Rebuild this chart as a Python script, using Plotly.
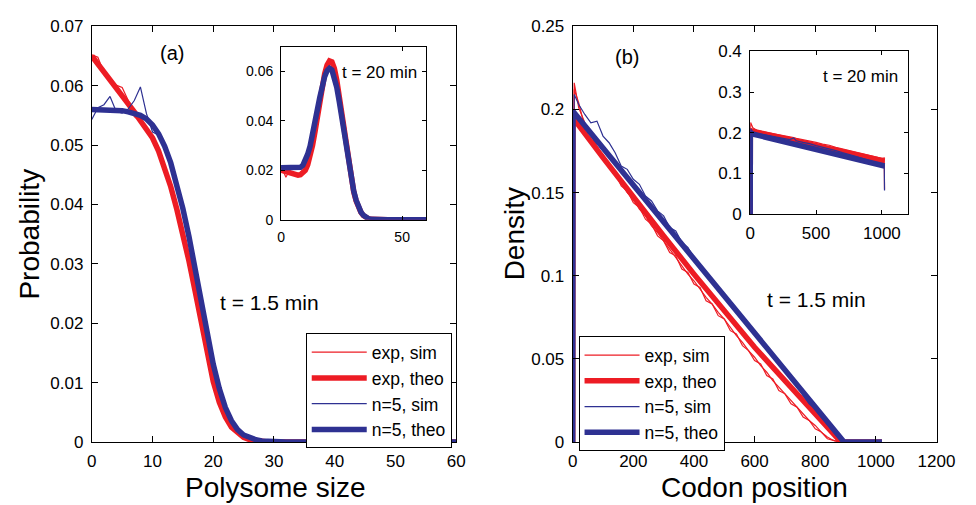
import plotly.graph_objects as go

# ---------------- data: panel (a), main, t = 1.5 min ----------------
size_main = list(range(0, 61))
exp_theo_main = [0.0650, 0.0637, 0.0624, 0.0611, 0.0598, 0.0585, 0.0571, 0.0556, 0.0541, 0.0526,
                 0.0512, 0.0490, 0.0462, 0.0430, 0.0392, 0.0350, 0.0305, 0.0255, 0.0200, 0.0148,
                 0.0102, 0.0067, 0.0042, 0.0025, 0.0015, 0.0008, 0.0004, 0.0002, 0.0001] + [0.0] * 32
n5_theo_main = [0.0560, 0.0560, 0.0560, 0.0560, 0.0559, 0.0558, 0.0556, 0.0554, 0.0550, 0.0544,
                0.0534, 0.0519, 0.0498, 0.0470, 0.0435, 0.0393, 0.0346, 0.0292, 0.0235, 0.0180,
                0.0131, 0.0090, 0.0058, 0.0036, 0.0021, 0.0012, 0.0007, 0.0004, 0.0002, 0.0001] + [0.0] * 31
exp_sim_main = [0.0652, 0.0648, 0.0622, 0.0613, 0.0601, 0.0597, 0.0575, 0.0548, 0.0540, 0.0529,
                0.0509, 0.0492, 0.0458, 0.0433, 0.0388, 0.0352, 0.0303, 0.0258, 0.0198, 0.0150,
                0.0100, 0.0068, 0.0041, 0.0026, 0.0014, 0.0008, 0.0004, 0.0002, 0.0001] + [0.0] * 32
n5_sim_main = [0.0543, 0.0563, 0.0568, 0.0582, 0.0557, 0.0554, 0.0561, 0.0575, 0.0598, 0.0553,
               0.0522, 0.0517, 0.0500, 0.0468, 0.0438, 0.0390, 0.0349, 0.0290, 0.0238, 0.0178,
               0.0133, 0.0088, 0.0059, 0.0035, 0.0022, 0.0012, 0.0007, 0.0003, 0.0002, 0.0001] + [0.0] * 31

# ---------------- data: panel (a), inset, t = 20 min ----------------
size_inset = list(range(0, 61))
exp_theo_inset = [0.0200, 0.0197, 0.0193, 0.0189, 0.0186, 0.0183, 0.0181, 0.0180, 0.0182, 0.0188,
                  0.0200, 0.0222, 0.0255, 0.0300, 0.0355, 0.0418, 0.0482, 0.0540, 0.0590, 0.0625,
                  0.0642, 0.0638, 0.0612, 0.0565, 0.0502, 0.0430, 0.0355, 0.0283, 0.0217, 0.0160,
                  0.0113, 0.0076, 0.0049, 0.0030, 0.0017, 0.0009, 0.0005, 0.0002, 0.0001] + [0.0] * 22
n5_theo_inset = [0.0210, 0.0210, 0.0210, 0.0210, 0.0210, 0.0210, 0.0210, 0.0210, 0.0212, 0.0220,
                 0.0238, 0.0265, 0.0298, 0.0340, 0.0390, 0.0445, 0.0495, 0.0540, 0.0578, 0.0602,
                 0.0612, 0.0605, 0.0578, 0.0535, 0.0480, 0.0415, 0.0347, 0.0280, 0.0218, 0.0162,
                 0.0116, 0.0079, 0.0051, 0.0031, 0.0018, 0.0010, 0.0005, 0.0002, 0.0001] + [0.0] * 22
exp_sim_inset = [0.0202, 0.0195, 0.0172, 0.0190, 0.0185, 0.0184, 0.0179, 0.0182, 0.0180, 0.0190,
                 0.0198, 0.0225, 0.0252, 0.0303, 0.0352, 0.0421, 0.0478, 0.0544, 0.0587, 0.0628,
                 0.0640, 0.0641, 0.0609, 0.0568, 0.0499, 0.0433, 0.0352, 0.0286, 0.0214, 0.0162,
                 0.0111, 0.0077, 0.0048, 0.0031, 0.0016, 0.0009, 0.0005, 0.0002, 0.0001] + [0.0] * 22
n5_sim_inset = [0.0213, 0.0208, 0.0211, 0.0209, 0.0212, 0.0208, 0.0211, 0.0209, 0.0214, 0.0218,
                0.0240, 0.0263, 0.0300, 0.0338, 0.0392, 0.0443, 0.0497, 0.0538, 0.0580, 0.0600,
                0.0614, 0.0603, 0.0580, 0.0533, 0.0482, 0.0413, 0.0349, 0.0278, 0.0219, 0.0161,
                0.0117, 0.0078, 0.0052, 0.0030, 0.0019, 0.0010, 0.0005, 0.0002, 0.0001] + [0.0] * 22

# ---------------- data: panel (b), main, t = 1.5 min ----------------
codon_exp_theo = [0, 1, 100, 200, 300, 400, 500, 600, 700, 800, 885, 1020]
exp_theo_dens = [0.0, 0.195, 0.171, 0.147, 0.124, 0.101, 0.079, 0.057, 0.037, 0.017, 0.0, 0.0]
codon_n5_theo = [0, 1, 100, 200, 300, 400, 500, 600, 700, 800, 895, 1020]
n5_theo_dens = [0.0, 0.199, 0.1768, 0.1545, 0.1323, 0.1101, 0.0878, 0.0656, 0.0434, 0.0211, 0.0, 0.0]

codon_sim = [0, 5] + list(range(20, 1021, 20))
exp_sim_dens_1 = [0.0, 0.216, 0.201, 0.192, 0.185, 0.178, 0.172, 0.166, 0.161, 0.156, 0.150,
                  0.146, 0.140, 0.136, 0.130, 0.126, 0.121, 0.116, 0.111, 0.106, 0.101,
                  0.097, 0.092, 0.087, 0.083, 0.078, 0.074, 0.069, 0.064, 0.060, 0.055,
                  0.051, 0.046, 0.042, 0.037, 0.033, 0.029, 0.025, 0.021, 0.017, 0.013,
                  0.010, 0.006, 0.003, 0.001, 0.0] + [0.0] * 7
exp_sim_dens_2 = [0.0, 0.212, 0.204, 0.189, 0.186, 0.176, 0.173, 0.165, 0.162, 0.154, 0.151,
                  0.144, 0.141, 0.134, 0.131, 0.124, 0.121, 0.114, 0.112, 0.104, 0.102,
                  0.095, 0.093, 0.085, 0.083, 0.076, 0.074, 0.067, 0.065, 0.058, 0.055,
                  0.049, 0.047, 0.040, 0.038, 0.031, 0.029, 0.023, 0.021, 0.015, 0.013,
                  0.008, 0.006, 0.002, 0.001, 0.0] + [0.0] * 7
n5_sim_dens = [0.0, 0.209, 0.203, 0.197, 0.192, 0.193, 0.184, 0.180, 0.174, 0.166, 0.164,
               0.158, 0.155, 0.148, 0.145, 0.139, 0.136, 0.129, 0.127, 0.120, 0.117,
               0.111, 0.107, 0.101, 0.098, 0.092, 0.089, 0.083, 0.080, 0.074, 0.070,
               0.065, 0.062, 0.056, 0.051, 0.048, 0.042, 0.038, 0.034, 0.028, 0.023,
               0.020, 0.015, 0.011, 0.006, 0.002] + [0.0] * 7

# ---------------- data: panel (b), inset, t = 20 min ----------------
codon_inset_theo = [0, 1, 1020]
exp_theo_inset_dens = [0.0, 0.205, 0.130]
n5_theo_inset_dens = [0.0, 0.198, 0.118]
codon_inset_sim = [0, 3, 20, 50, 100, 150, 200, 250, 300, 330, 350, 400, 450, 500, 550, 600,
                   650, 700, 750, 800, 850, 900, 950, 1000, 1018, 1020]
exp_sim_inset_dens = [0.0, 0.225, 0.212, 0.206, 0.202, 0.199, 0.197, 0.193, 0.190, 0.188, 0.186,
                      0.183, 0.179, 0.176, 0.172, 0.169, 0.164, 0.160, 0.157, 0.152, 0.148,
                      0.144, 0.140, 0.137, 0.138, 0.060]
n5_sim_inset_dens = [0.0, 0.210, 0.202, 0.198, 0.195, 0.192, 0.190, 0.186, 0.183, 0.187, 0.180,
                     0.176, 0.173, 0.168, 0.164, 0.161, 0.156, 0.151, 0.147, 0.142, 0.137,
                     0.132, 0.127, 0.121, 0.120, 0.058]

legend_labels = ["exp, sim", "exp, theo", "n=5, sim", "n=5, theo"]

# ---------------- styling ----------------
RED = "rgb(237,28,36)"
BLUE = "rgb(46,49,146)"
THIN = 1.2
THICK = 5.5
FONT = "Liberation Sans, Arial, Helvetica, sans-serif"
W, H = 976, 505


def xd(a, b):
    return [a / W, b / W]


def yd(top, bottom):
    return [1 - bottom / H, 1 - top / H]


fig = go.Figure()


def add(x, y, color, width, name, xa, ya, legend=None, show=False, group=None):
    fig.add_trace(go.Scatter(
        x=x, y=y, mode="lines", line=dict(color=color, width=width),
        name=name, xaxis=xa, yaxis=ya, showlegend=show,
        legend=legend if legend else "legend", legendgroup=group, hoverinfo="skip"))


# panel (a) main
add(size_main, exp_sim_main, RED, THIN, legend_labels[0], "x", "y", "legend", True, "a1")
add(size_main, exp_theo_main, RED, THICK, legend_labels[1], "x", "y", "legend", True, "a2")
add(size_main, n5_sim_main, BLUE, THIN, legend_labels[2], "x", "y", "legend", True, "a3")
add(size_main, n5_theo_main, BLUE, THICK, legend_labels[3], "x", "y", "legend", True, "a4")
# panel (a) inset
add(size_inset, exp_sim_inset, RED, THIN, legend_labels[0], "x2", "y2")
add(size_inset, exp_theo_inset, RED, THICK, legend_labels[1], "x2", "y2")
add(size_inset, n5_sim_inset, BLUE, THIN, legend_labels[2], "x2", "y2")
add(size_inset, n5_theo_inset, BLUE, THICK, legend_labels[3], "x2", "y2")
# panel (b) main
add(codon_sim, exp_sim_dens_1, RED, THIN, legend_labels[0], "x3", "y3", "legend2", True, "b1")
add(codon_sim, exp_sim_dens_2, RED, THIN, legend_labels[0], "x3", "y3", "legend2", False, "b1")
add(codon_exp_theo, exp_theo_dens, RED, THICK, legend_labels[1], "x3", "y3", "legend2", True, "b2")
add(codon_sim, n5_sim_dens, BLUE, THIN, legend_labels[2], "x3", "y3", "legend2", True, "b3")
add(codon_n5_theo, n5_theo_dens, BLUE, THICK, legend_labels[3], "x3", "y3", "legend2", True, "b4")
# panel (b) inset
add(codon_inset_theo, exp_theo_inset_dens, RED, THICK, legend_labels[1], "x4", "y4")
add(codon_inset_sim, exp_sim_inset_dens, RED, THIN, legend_labels[0], "x4", "y4")
add(codon_inset_theo, n5_theo_inset_dens, BLUE, THICK, legend_labels[3], "x4", "y4")
add(codon_inset_sim, n5_sim_inset_dens, BLUE, THIN, legend_labels[2], "x4", "y4")


def axis(domain, rng, tickvals, ticktext, anchor, size, ticklen=6):
    return dict(domain=domain, range=rng, tickvals=tickvals, ticktext=ticktext, anchor=anchor,
                showline=True, linecolor="black", linewidth=1, mirror="ticks",
                ticks="inside", ticklen=ticklen, tickcolor="black", tickwidth=1,
                showgrid=False, zeroline=False, ticklabelstandoff=4,
                tickfont=dict(family=FONT, size=size, color="black"), fixedrange=True)


a_x = [0, 10, 20, 30, 40, 50, 60]
a_y = [0, 0.01, 0.02, 0.03, 0.04, 0.05, 0.06, 0.07]
a_y_txt = ["0", "0.01", "0.02", "0.03", "0.04", "0.05", "0.06", "0.07"]
ai_x = [0, 50]
ai_y = [0, 0.02, 0.04, 0.06]
ai_y_txt = ["0", "0.02", "0.04", "0.06"]
b_x = [0, 200, 400, 600, 800, 1000, 1200]
b_y = [0, 0.05, 0.1, 0.15, 0.2, 0.25]
b_y_txt = ["0", "0.05", "0.1", "0.15", "0.2", "0.25"]
bi_x = [0, 500, 1000]
bi_y = [0, 0.1, 0.2, 0.3, 0.4]
bi_y_txt = ["0", "0.1", "0.2", "0.3", "0.4"]

legend_style = dict(bgcolor="white", bordercolor="black", borderwidth=1,
                    font=dict(family=FONT, size=17.5, color="black"), tracegroupgap=0,
                    itemwidth=55, entrywidth=140)

fig.update_layout(
    width=W, height=H, margin=dict(l=0, r=0, t=0, b=0),
    paper_bgcolor="white", plot_bgcolor="white",
    font=dict(family=FONT, color="black"),
    xaxis=axis(xd(89, 462.5), [0, 60], a_x, [str(v) for v in a_x], "y", 17),
    yaxis=axis(yd(18, 450), [0, 0.07], a_y, a_y_txt, "x", 17),
    xaxis2=axis(xd(283, 432), [0, 60], ai_x, [str(v) for v in ai_x], "y2", 14, 4),
    yaxis2=axis(yd(39, 219), [0, 0.07], ai_y, ai_y_txt, "x2", 14, 4),
    xaxis3=axis(xd(582, 955), [0, 1200], b_x, [str(v) for v in b_x], "y3", 17),
    yaxis3=axis(yd(18, 450), [0, 0.25], b_y, b_y_txt, "x3", 17),
    xaxis4=axis(xd(764, 926), [0, 1200], bi_x, [str(v) for v in bi_x], "y4", 17, 4),
    yaxis4=axis(yd(44, 213), [0, 0.4], bi_y, bi_y_txt, "x4", 17, 4),
    legend=dict(x=458 / W, y=1 - 337 / H, xanchor="right", yanchor="top", **legend_style),
    legend2=dict(x=588 / W, y=1 - 340 / H, xanchor="left", yanchor="top", **legend_style),
    showlegend=True,
)

ann = [
    dict(text="(a)", x=13.2, y=0.0655, xref="x", yref="y", size=20),
    dict(text="t = 1.5 min", x=29.2, y=0.0235, xref="x", yref="y", size=21),
    dict(text="(b)", x=180, y=0.2315, xref="x3", yref="y3", size=20),
    dict(text="t = 1.5 min", x=804, y=0.0856, xref="x3", yref="y3", size=21),
]
for a in ann:
    fig.add_annotation(text=a["text"], x=a["x"], y=a["y"], xref=a["xref"], yref=a["yref"],
                       showarrow=False, xanchor="center", yanchor="middle",
                       font=dict(family=FONT, size=a["size"], color="black"))
fig.add_annotation(text="t = 20 min", x=56.8, y=0.0595, xref="x2", yref="y2", showarrow=False,
                   xanchor="right", yanchor="middle", font=dict(family=FONT, size=17, color="black"))
fig.add_annotation(text="t = 20 min", x=1141, y=0.338, xref="x4", yref="y4", showarrow=False,
                   xanchor="right", yanchor="middle", font=dict(family=FONT, size=17, color="black"))

# axis titles
titles = [
    dict(text="Polysome size", x=277 / W, y=1 - 497 / H, angle=0),
    dict(text="Codon position", x=768 / W, y=1 - 497 / H, angle=0),
    dict(text="Probability", x=25 / W, y=1 - 234 / H, angle=-90),
    dict(text="Density", x=522 / W, y=1 - 234 / H, angle=-90),
]
for t in titles:
    fig.add_annotation(text=t["text"], x=t["x"], y=t["y"], xref="paper", yref="paper",
                       showarrow=False, xanchor="center", yanchor="middle", textangle=t["angle"],
                       font=dict(family=FONT, size=28, color="black"))

fig.write_html("out.html")
